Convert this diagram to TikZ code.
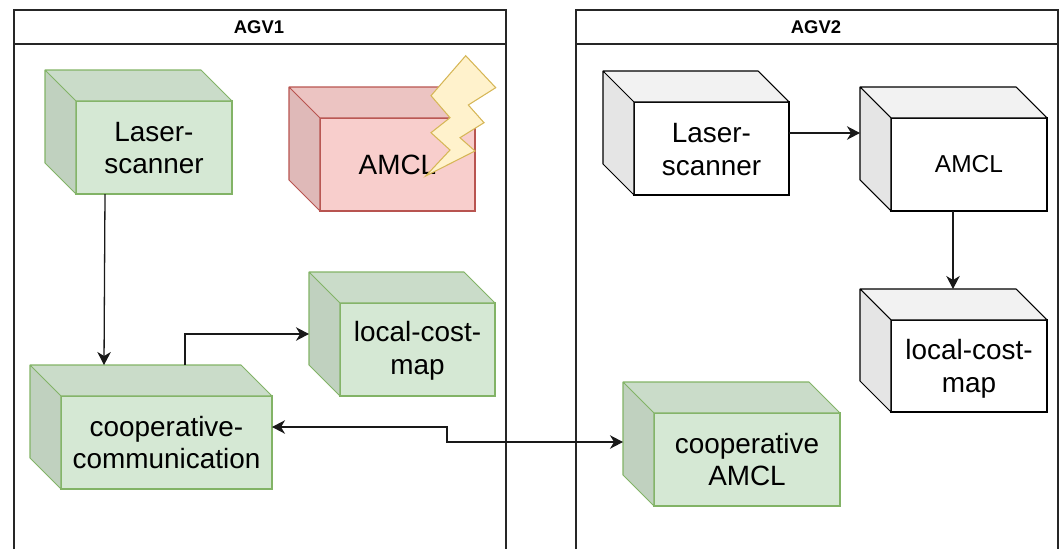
\documentclass[tikz,border=0pt]{standalone}
\usepackage{fontspec}
\setmainfont{Liberation Sans}
\usetikzlibrary{arrows.meta,calc}
\definecolor{gfill}{HTML}{D5E8D4}\definecolor{gline}{HTML}{82B366}
\definecolor{rfill}{HTML}{F8CECC}\definecolor{rline}{HTML}{B85450}
\definecolor{yfill}{HTML}{FFF2CC}\definecolor{yline}{HTML}{D6B656}
\tikzset{
  cubeouter/.style={draw=none,fill=none,inner sep=0pt,outer sep=0pt,anchor=north west},
  cubefront/.style={inner sep=0pt,outer sep=0pt,anchor=north west,line width=1.05pt},
  cubetext/.style={inner sep=0pt,align=center,text=black,font=\fontsize{27.9}{32.5}\selectfont},
  lane/.style={draw=black!85,line width=1.2pt},
  lanetitle/.style={font=\bfseries\fontsize{18.4}{22}\selectfont,inner sep=0pt},
  tipa/.tip={Stealth[length=13pt,width=13.5pt,inset=4pt]},
  conn/.style={draw=black!90,line width=1.3pt,-tipa},
  conn2/.style={draw=black!90,line width=1.3pt,tipa-tipa},
}
% name, x0,y0 (outer), x1,y1 (outer), fill, line, text, text shift down
\newcommand{\cubebox}[9]{%
  \node[cubeouter,minimum width=#4pt-#2pt,minimum height=#5pt-#3pt] (#1) at (#2,#3) {};
  \node[cubefront,draw=#7,fill=#6,minimum width=#4pt-#2pt-31pt,minimum height=#5pt-#3pt-31pt] (#1f) at (#2+31,#3+31) {};
  \fill[#6!95!black] (#2,#3) -- (#4-31,#3) -- (#4,#3+31) -- (#2+31,#3+31) -- cycle;
  \fill[#6!90!black] (#2,#3) -- (#2+31,#3+31) -- (#2+31,#5) -- (#2,#5-31) -- cycle;
  \draw[#7,line width=1.05pt,line join=round] (#2+31,#3+31) -- (#2,#3) -- (#4-31,#3) -- (#4,#3+31) -- (#2+31,#3+31) -- (#2+31,#5) -- (#2,#5-31) -- (#2,#3);
  \node[cubetext] (#1t) at ($(#1f.center)+(0,#9)$) {#8};
}
\begin{document}
\begin{tikzpicture}[x=1pt,y=-1pt]
\useasboundingbox (0,0) rectangle (1062,549);
% lanes
\draw[lane] (14,549) -- (14,10) -- (506,10) -- (506,549);
\draw[lane] (14,44) -- (506,44);
\node[lanetitle] (t1) at (259,27.5) {AGV1};
\draw[lane] (576,549) -- (576,10) -- (1058,10) -- (1058,549);
\draw[lane] (576,44) -- (1058,44);
\node[lanetitle] (t2) at (816,27.5) {AGV2};
% cubes
\cubebox{las1}{45}{70}{232}{194}{gfill}{gline}{Laser-\\scanner}{0.5}
\cubebox{amc1}{289}{87}{475}{211}{rfill}{rline}{AMCL}{0}
\cubebox{loc1}{309}{272}{495}{396}{gfill}{gline}{local-cost-\\map}{1.5}
\cubebox{coop}{30}{365}{272}{489}{gfill}{gline}{cooperative-\\communication}{0}
\cubebox{las2}{603}{71}{789}{195}{white}{black}{Laser-\\scanner}{1}
\cubebox{amc2}{860}{87}{1047}{211}{white}{black}{\fontsize{24.5}{29}\selectfont AMCL}{0}
\cubebox{loc2}{860}{289}{1047}{412}{white}{black}{local-cost-\\map}{3}
\cubebox{cam}{623}{382}{840}{506}{gfill}{gline}{cooperative\\AMCL}{0}
% lightning
\draw[yline,fill=yfill,line width=1.05pt,line join=miter] (465.7,55.7) -- (495.7,87.7) -- (468.3,105) -- (484,122.7) -- (460,137.7) -- (475,151) -- (425.7,176) -- (450,150) -- (431,132.7) -- (450,117.7) -- (431,95.7) -- cycle;
% connectors
\draw[conn] ([xshift=-33.5pt]las1.south) -- ([xshift=-47pt]coop.north);
\draw[conn] ([xshift=34pt]coop.north) |- (loc1.west);
\draw[conn2] (coop.east) -- ++(175,0) -- ++(0,15) -- ([yshift=2pt]cam.west);
\draw[conn] (las2.east) -- (amc2.west |- las2.east);
\draw[conn] ([xshift=-0.5pt]amc2.south) -- ([xshift=-0.5pt]loc2.north);
\end{tikzpicture}
\end{document}
